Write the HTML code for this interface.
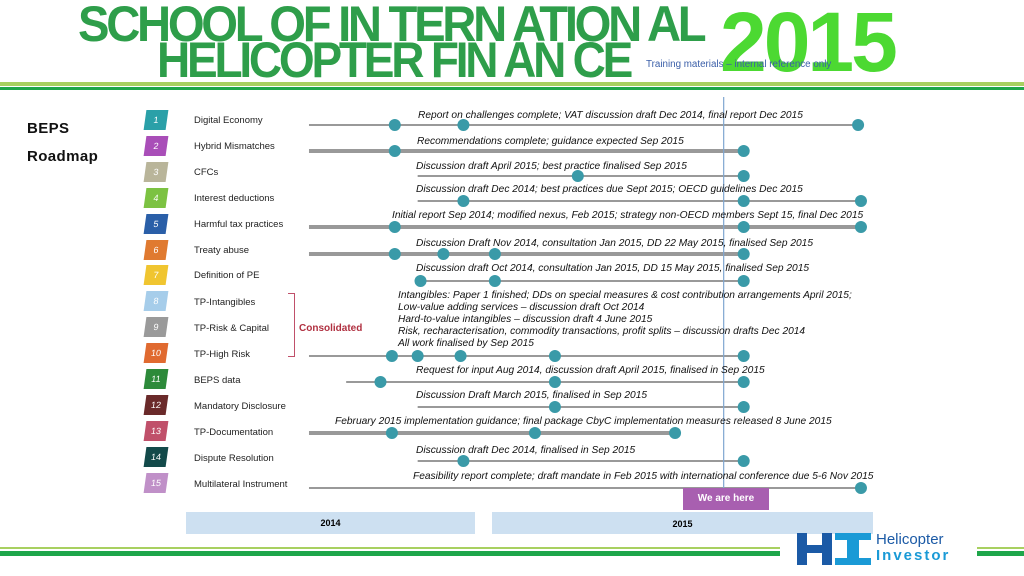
<!DOCTYPE html>
<html><head><meta charset="utf-8">
<style>
body{margin:0;width:1024px;height:576px;overflow:hidden;background:#fff;font-family:"Liberation Sans",sans-serif;position:relative}
.abs{position:absolute}
.title{font-weight:bold;color:#2e9e4a;font-size:50px;letter-spacing:-3.5px;white-space:nowrap;transform-origin:left top;line-height:44px}
.badge{position:absolute;left:145px;width:22px;height:20px;transform:skewX(-8deg);color:#fff;font-size:9px;text-align:center;line-height:20px}
.lbl{position:absolute;left:194px;font-size:9.5px;color:#222;line-height:12px}
.note{position:absolute;font-size:10.2px;font-style:italic;color:#111;white-space:nowrap;line-height:12px}
</style></head><body>
<div class="abs title" style="left:78px;top:2px;transform:scaleX(0.945)">SCHOOL OF IN TERN ATION AL</div>
<div class="abs title" style="left:157px;top:38px;transform:scaleX(0.92)">HELICOPTER FIN AN CE</div>
<div class="abs" style="left:720px;top:-1px;font-size:84px;font-weight:bold;color:#4cd932;letter-spacing:-3px;line-height:86px">2015</div>
<div class="abs" style="left:646px;top:59px;font-size:9.8px;color:#3a5ea8">Training materials – internal reference only</div>
<div class="abs" style="left:0;top:82px;width:1024px;height:4px;background:#a8d060"></div>
<div class="abs" style="left:0;top:87px;width:1024px;height:3px;background:#1ea64a"></div>
<div class="abs" style="left:27px;top:115px;font-size:15px;font-weight:bold;line-height:28px;color:#111;letter-spacing:0.4px">BEPS<br>Roadmap</div>
<div class="abs" style="left:288px;top:293px;width:6px;height:62px;border:1px solid #c0506a;border-left:none"></div>
<div class="abs" style="left:299px;top:323px;font-size:10px;font-weight:bold;color:#b03040">Consolidated</div>
<div id="rows"></div>
<svg class="abs" style="left:0;top:0" width="1024" height="576" id="chart"></svg>
<div class="abs" style="left:683px;top:488px;width:86px;height:22px;background:#a85fb0;color:#fff;font-size:10px;font-weight:bold;text-align:center;line-height:22px">We are here</div>
<div class="abs" style="left:186px;top:512px;width:289px;height:22px;background:#cde0f1;font-size:9px;font-weight:bold;text-align:center;line-height:22px">2014</div>
<div class="abs" style="left:492px;top:512px;width:381px;height:22px;background:#cde0f1;font-size:9px;font-weight:bold;text-align:center;line-height:24px">2015</div>
<div class="abs" style="left:0;top:547px;width:780px;height:2px;background:#a8d060"></div>
<div class="abs" style="left:0;top:551px;width:780px;height:5px;background:#1ea64a"></div>
<div class="abs" style="left:977px;top:547px;width:47px;height:2px;background:#a8d060"></div>
<div class="abs" style="left:977px;top:551px;width:47px;height:5px;background:#1ea64a"></div>
<div class="abs" style="left:797px;top:533px;width:160px;height:32px">
  <div class="abs" style="left:0;top:0;width:10px;height:32px;background:#1b5aa6"></div>
  <div class="abs" style="left:25px;top:0;width:10px;height:32px;background:#1b5aa6"></div>
  <div class="abs" style="left:10px;top:12px;width:15px;height:8px;background:#1b5aa6"></div>
  <div class="abs" style="left:38px;top:0;width:36px;height:7px;background:#1a9ad6"></div>
  <div class="abs" style="left:50px;top:7px;width:12px;height:18px;background:#1a9ad6"></div>
  <div class="abs" style="left:38px;top:25px;width:36px;height:7px;background:#1a9ad6"></div>
  <div class="abs" style="left:79px;top:-1px;font-size:15px;color:#1b5aa6;line-height:16px">Helicopter</div>
  <div class="abs" style="left:79px;top:15px;font-size:15px;color:#1a9ad6;font-weight:bold;letter-spacing:2px;line-height:16px">Investor</div>
</div>
<script>
// timeline position in months from Jan 2014 (0) to Dec 2015 (24)
const labels=["Digital Economy","Hybrid Mismatches","CFCs","Interest deductions","Harmful tax practices","Treaty abuse","Definition of PE","TP-Intangibles","TP-Risk & Capital","TP-High Risk","BEPS data","Mandatory Disclosure","TP-Documentation","Dispute Resolution","Multilateral Instrument"];
const badgeColors=["#2aa0a8","#a94eb8","#b9b59a","#7cc242","#2a5fa8","#e07a30","#f0c530","#a6cdea","#9a9a9a","#e06a30","#2d8a3a","#6a2a2a","#c0506a","#134a4a","#c090c8"];
const lineStarts=[4.3,4.3,8.1,8.1,4.3,4.3,8.1,4.3,5.6,8.1,4.3,8.1,4.3];
const lineThick=[0,1,0,0,1,1,0,0,0,0,1,0,0];
const milestones=[[7.3,9.7,23.5],[7.3,19.5],[13.7,19.5],[9.7,19.5,23.6],[7.3,19.5,23.6],[7.3,9.0,10.8,19.5],[8.2,10.8,19.5],[7.2,8.1,9.6,12.9,19.5],[6.8,12.9,19.5],[12.9,19.5],[7.2,12.2,17.1],[9.7,19.5],[23.6]];
const notes=["Report on challenges complete; VAT discussion draft Dec 2014, final report Dec 2015","Recommendations complete; guidance expected Sep 2015","Discussion draft April 2015; best practice finalised Sep 2015","Discussion draft Dec 2014; best practices due Sept 2015; OECD guidelines Dec 2015","Initial report Sep 2014; modified nexus, Feb 2015; strategy non-OECD members Sept 15, final Dec 2015","Discussion Draft Nov 2014, consultation Jan 2015, DD 22 May 2015, finalised Sep 2015","Discussion draft Oct 2014, consultation Jan 2015, DD 15 May 2015, finalised Sep 2015","Intangibles: Paper 1 finished; DDs on special measures & cost contribution arrangements April 2015;\nLow-value adding services – discussion draft Oct 2014\nHard-to-value intangibles – discussion draft 4 June 2015\nRisk, recharacterisation, commodity transactions, profit splits – discussion drafts Dec 2014\nAll work finalised by Sep 2015","Request for input Aug 2014, discussion draft April 2015, finalised in Sep 2015","Discussion Draft March 2015, finalised in Sep 2015","February 2015  implementation guidance; final package CbyC implementation measures released 8 June 2015","Discussion draft Dec 2014, finalised in Sep 2015","Feasibility report complete; draft mandate in Feb 2015 with international conference due 5-6 Nov 2015"];
const lineY=[125,151,176,201,227,254,281,356,382,407,433,461,488];
const noteLeft=[418,417,416,416,392,416,416,398,416,416,335,416,413];
const noteTop=[110,136,161,184,210,238,263,290,365,390,416,445,471];
const nowMonth=18.8;
const rowY=i=>121+i*25.9;
const xs=m=>186+m*28.6;
const ns="http://www.w3.org/2000/svg";
const svg=document.getElementById('chart');
const rows=document.getElementById('rows');
labels.forEach((t,i)=>{
  const b=document.createElement('div');b.className='badge';b.style.top=(rowY(i)-11)+'px';b.style.background=badgeColors[i];b.textContent=i+1;
  
  
  rows.appendChild(b);
  const l=document.createElement('div');l.className='lbl';l.style.top=(rowY(i)-6+(i>=7?1:0))+'px';l.textContent=t;
  
  
  rows.appendChild(l);
});
milestones.forEach((ms,i)=>{
  const y=lineY[i];
  const ln=document.createElementNS(ns,'line');
  const end=Math.max(...ms);
  ln.setAttribute('x1',xs(lineStarts[i]));ln.setAttribute('x2',xs(end));ln.setAttribute('y1',y);ln.setAttribute('y2',y);
  ln.setAttribute('stroke','#999');ln.setAttribute('stroke-width',lineThick[i]?4:2);
  
  
  svg.appendChild(ln);
  ms.forEach(m=>{
    const c=document.createElementNS(ns,'circle');
    c.setAttribute('cx',xs(m));c.setAttribute('cy',y);c.setAttribute('r',6);c.setAttribute('fill','#3a9aa8');
    
    
    svg.appendChild(c);
  });
  const n=document.createElement('div');n.className='note';n.style.left=noteLeft[i]+'px';n.style.top=noteTop[i]+'px';
  n.innerHTML=notes[i].split('\n').join('<br>');
  
  
  document.body.appendChild(n);
});
const v=document.createElementNS(ns,'line');
v.setAttribute('x1',xs(nowMonth));v.setAttribute('x2',xs(nowMonth));v.setAttribute('y1',97);v.setAttribute('y2',490);
v.setAttribute('stroke','#7fa6d0');v.setAttribute('stroke-width',1.2);


svg.appendChild(v);
</script>
</body></html>
